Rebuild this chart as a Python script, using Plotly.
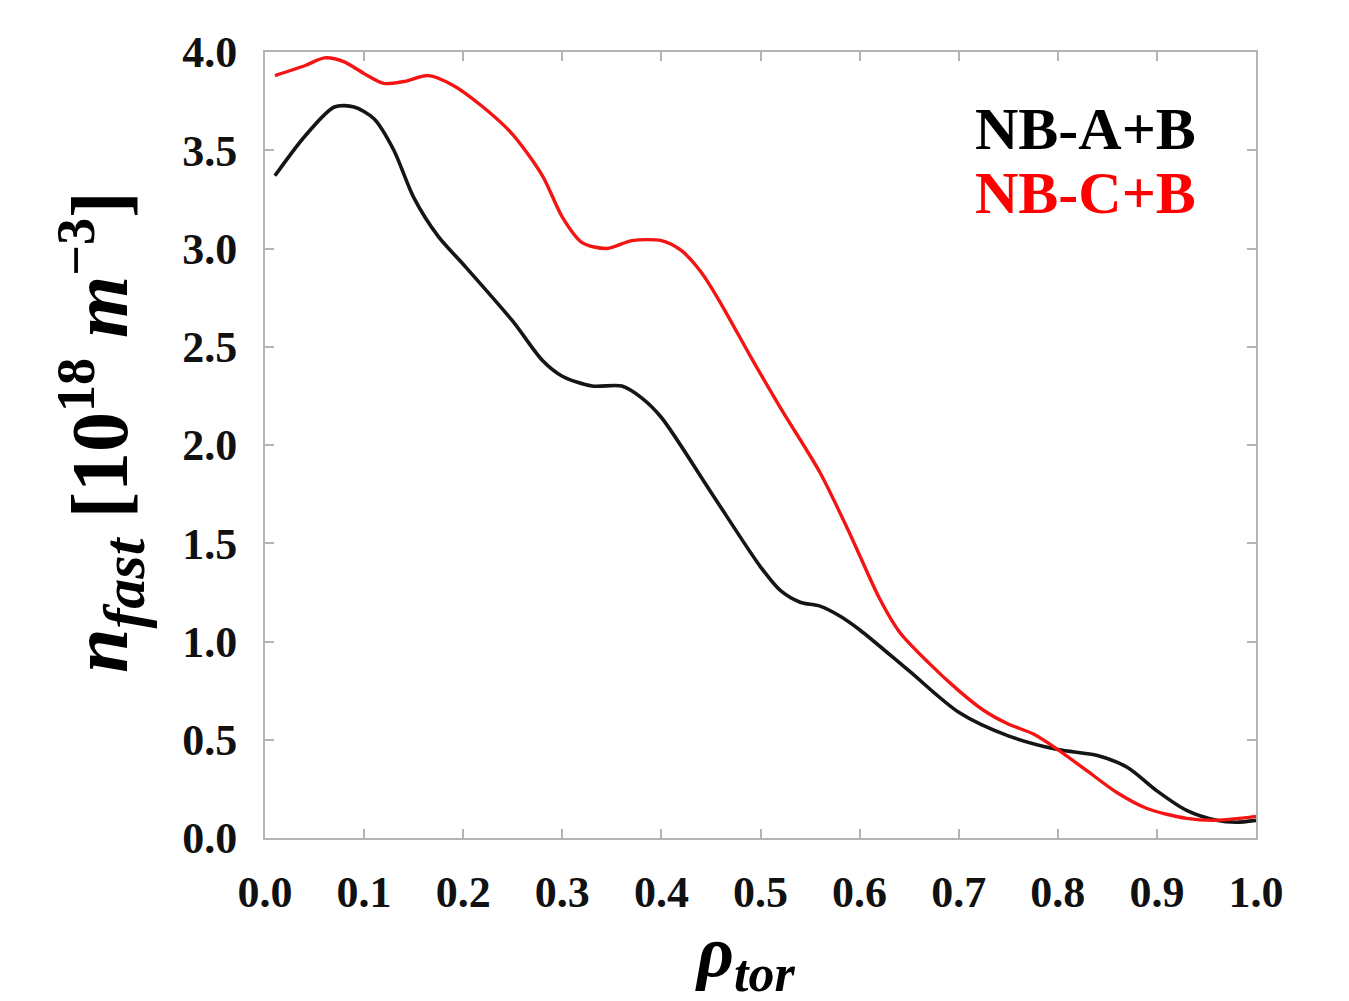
import plotly.graph_objects as go

# Fast-ion density profiles vs normalised toroidal radius
rho_ab = [0.01, 0.04, 0.07, 0.09, 0.11, 0.13, 0.15, 0.175, 0.20, 0.25, 0.28, 0.30,
          0.33, 0.36, 0.38, 0.40, 0.45, 0.50, 0.52, 0.54, 0.56, 0.58, 0.60, 0.65,
          0.70, 0.75, 0.80, 0.84, 0.87, 0.90, 0.93, 0.96, 0.98, 1.00]
n_ab = [3.37, 3.57, 3.72, 3.72, 3.66, 3.50, 3.26, 3.06, 2.92, 2.63, 2.43, 2.35,
        2.30, 2.30, 2.24, 2.14, 1.76, 1.38, 1.26, 1.20, 1.18, 1.13, 1.06, 0.85,
        0.64, 0.52, 0.45, 0.42, 0.36, 0.24, 0.14, 0.09, 0.08, 0.09]

rho_cb = [0.01, 0.04, 0.06, 0.08, 0.10, 0.12, 0.14, 0.165, 0.19, 0.22, 0.25, 0.28,
          0.30, 0.32, 0.345, 0.37, 0.40, 0.42, 0.44, 0.46, 0.49, 0.52, 0.56, 0.59,
          0.62, 0.64, 0.67, 0.70, 0.725, 0.75, 0.775, 0.80, 0.83, 0.86, 0.89, 0.93,
          0.96, 1.00]
n_cb = [3.88, 3.93, 3.97, 3.95, 3.89, 3.84, 3.85, 3.88, 3.83, 3.72, 3.58, 3.37,
        3.16, 3.03, 3.00, 3.04, 3.04, 2.99, 2.88, 2.72, 2.45, 2.19, 1.86, 1.55,
        1.22, 1.05, 0.89, 0.75, 0.65, 0.58, 0.53, 0.45, 0.34, 0.23, 0.15, 0.10,
        0.09, 0.11]

x_ticks = [0.0, 0.1, 0.2, 0.3, 0.4, 0.5, 0.6, 0.7, 0.8, 0.9, 1.0]
y_ticks = [0.0, 0.5, 1.0, 1.5, 2.0, 2.5, 3.0, 3.5, 4.0]

serif = "Liberation Serif"
axis_grey = "#b4b4b4"

fig = go.Figure()
fig.add_trace(go.Scatter(x=rho_ab, y=n_ab, mode="lines", name="NB-A+B",
                         line=dict(color="#151515", width=3.6, shape="spline", smoothing=0.8)))
fig.add_trace(go.Scatter(x=rho_cb, y=n_cb, mode="lines", name="NB-C+B",
                         line=dict(color="#f41414", width=3.4, shape="spline", smoothing=0.8)))

axis_common = dict(
    showgrid=False, zeroline=False,
    showline=True, linecolor=axis_grey, linewidth=2, mirror="ticks",
    ticks="inside", ticklen=9, tickwidth=2, tickcolor=axis_grey,
    tickfont=dict(family=serif, size=44, color="#111111", weight="bold"),
)

fig.update_xaxes(range=[0, 1], tickvals=x_ticks,
                 ticktext=[f"{v:.1f}" for v in x_ticks],
                 ticklabelstandoff=14, **axis_common)
fig.update_yaxes(range=[0, 4], tickvals=y_ticks,
                 ticktext=[f"{v:.1f}" for v in y_ticks],
                 ticklabelstandoff=17, **axis_common)

# Legend labels drawn as coloured text in the upper right
fig.add_annotation(x=0.941, y=3.61, xref="x", yref="y", xanchor="right", yanchor="middle",
                   text="<b>NB-A+B</b>", showarrow=False,
                   font=dict(family=serif, size=60, color="#000000"))
fig.add_annotation(x=0.941, y=3.28, xref="x", yref="y", xanchor="right", yanchor="middle",
                   text="<b>NB-C+B</b>", showarrow=False,
                   font=dict(family=serif, size=60, color="#ff0000"))

# Axis titles
fig.add_annotation(x=0.485, y=-0.152, xref="paper", yref="paper",
                   xanchor="center", yanchor="middle", showarrow=False,
                   text="<b><i>ρ</i><sub><i><span style='font-size:52px'>tor</span></i></sub></b>",
                   font=dict(family=serif, size=72, color="#000000"))
fig.add_annotation(x=-0.165, y=0.517, xref="paper", yref="paper",
                   xanchor="center", yanchor="middle", showarrow=False, textangle=-90,
                   text=("<b><i>n</i><sub><i><span style='font-size:60px'>fast</span></i></sub>"
                         " [10<sup><span style='font-size:54px'>18</span></sup>"
                         " <i>m</i><sup><span style='font-size:54px'>−3</span></sup>]</b>"),
                   font=dict(family=serif, size=80, color="#000000"))

fig.update_layout(
    width=1349, height=1001,
    margin=dict(l=265, r=93, t=52, b=163),
    paper_bgcolor="white", plot_bgcolor="white",
    showlegend=False,
)

fig.write_html("out.html")
